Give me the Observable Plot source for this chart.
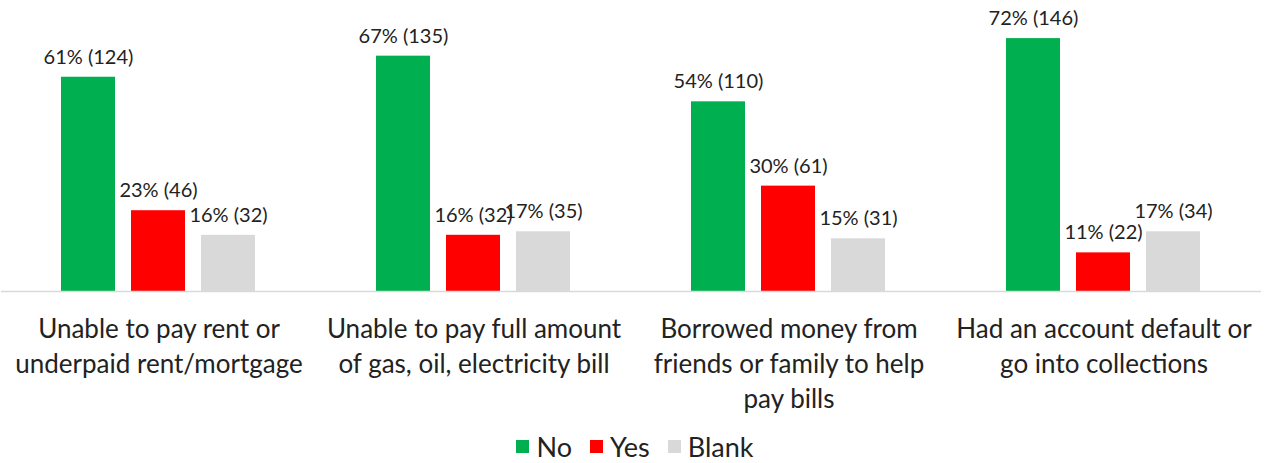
<!DOCTYPE html>
<html>
<head>
<meta charset="utf-8">
<script src="https://cdn.jsdelivr.net/npm/d3@7"></script>
<script src="https://cdn.jsdelivr.net/npm/@observablehq/plot@0.6"></script>
<style>
  html, body { margin: 0; padding: 0; background: #fff; }
  #chart { width: 1268px; font-family: Lato, sans-serif; }
  #legend { width: 1268px; display: flex; justify-content: center; padding-top: 6px; padding-left: 20px; box-sizing: border-box; }
  #legend span { margin-right: 18px !important; }
  #legend span svg { margin-right: 7px !important; }
</style>
</head>
<body>
<div id="chart"></div>
<div id="legend"></div>
<script>
const categories = [
  "Unable to pay rent or\nunderpaid rent/mortgage",
  "Unable to pay full amount\nof gas, oil, electricity bill",
  "Borrowed money from\nfriends or family to help\npay bills",
  "Had an account default or\ngo into collections"
];
const responses = ["No", "Yes", "Blank"];
const colors = ["#00B050", "#FF0000", "#D9D9D9"];
const noPct = [61, 67, 54, 72];
const noCount = [124, 135, 110, 146];
const yesPct = [23, 16, 30, 11];
const yesCount = [46, 32, 61, 22];
const blankPct = [16, 17, 15, 17];
const blankCount = [32, 35, 31, 34];

const pcts = [noPct, yesPct, blankPct];
const counts = [noCount, yesCount, blankCount];
const data = [];
categories.forEach((c, i) => {
  responses.forEach((r, j) => {
    data.push({category: c, response: r, pct: pcts[j][i], count: counts[j][i]});
  });
});

const chart = Plot.plot({
  width: 1268,
  height: 424,
  marginLeft: 1,
  marginRight: 7,
  marginTop: 10,
  marginBottom: 133,
  style: {fontFamily: "Lato, sans-serif", color: "#222", background: "#fff"},
  fx: {domain: categories, padding: 0, label: null},
  x: {domain: responses, paddingInner: 0.225, paddingOuter: 0.831, axis: null},
  y: {domain: [0, 80], axis: null},
  color: {domain: responses, range: colors},
  marks: [
    Plot.barY(data, {fx: "category", x: "response", y: "pct", fill: "response"}),
    Plot.ruleY([0], {stroke: "#D9D9D9", strokeWidth: 1.5}),
    Plot.text(data, {
      fx: "category", x: "response", y: "pct",
      text: d => `${d.pct}% (${d.count})`,
      dy: -20, fontSize: 20, fill: "#222"
    }),
    Plot.axisFx({anchor: "bottom", tickSize: 0, tickPadding: 22, fontSize: 26, lineHeight: 1.34, label: null, fill: "#222"})
  ]
});
document.getElementById("chart").appendChild(chart);

const legend = Plot.legend({
  color: {domain: responses, range: colors},
  legend: "swatches",
  swatchSize: 13,
  style: {fontFamily: "Lato, sans-serif", fontSize: "27px", color: "#222"}
});
document.getElementById("legend").appendChild(legend);
</script>
</body>
</html>
